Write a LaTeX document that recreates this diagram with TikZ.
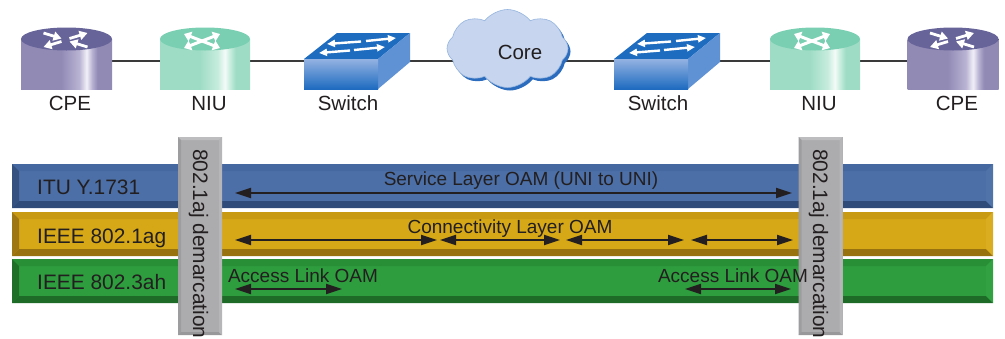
\documentclass[tikz,border=0pt]{standalone}
\usepackage{fontspec}
\setmainfont{Liberation Sans}
\usetikzlibrary{arrows.meta,shapes.symbols,backgrounds}

\definecolor{txt}{HTML}{231F20}
\definecolor{linkc}{HTML}{3A3A3A}
\definecolor{cpeTop}{HTML}{67649A}
\definecolor{cpeBase}{HTML}{918AB5}
\definecolor{cpeMid}{HTML}{B9B3D3}
\definecolor{cpeHi}{HTML}{F2F0F8}
\definecolor{niuTop}{HTML}{7ACFB3}
\definecolor{niuBase}{HTML}{9EDCC5}
\definecolor{niuMid}{HTML}{C6ECDD}
\definecolor{niuHi}{HTML}{F3FBF8}
\definecolor{swTop}{HTML}{1D6CC0}
\definecolor{swSide}{HTML}{5F92D4}
\definecolor{swFrontT}{HTML}{93B2E2}
\definecolor{swFrontB}{HTML}{1E6BC0}
\definecolor{cloudFill}{HTML}{C7D5EE}
\definecolor{cloudEdge}{HTML}{2B6CBE}
\definecolor{bluM}{HTML}{4B6FA6}\definecolor{bluT}{HTML}{4668A0}\definecolor{bluL}{HTML}{34517F}\definecolor{bluB}{HTML}{2F4B79}\definecolor{bluR}{HTML}{5074AA}
\definecolor{yelM}{HTML}{D6A818}\definecolor{yelT}{HTML}{C89A14}\definecolor{yelL}{HTML}{9E7612}\definecolor{yelB}{HTML}{98720F}\definecolor{yelR}{HTML}{DAAC1F}
\definecolor{grnM}{HTML}{2E9D3E}\definecolor{grnT}{HTML}{288F37}\definecolor{grnL}{HTML}{1F6F29}\definecolor{grnB}{HTML}{1E6A27}\definecolor{grnR}{HTML}{31A141}
\definecolor{barM}{HTML}{ACABAD}\definecolor{barT}{HTML}{BDBCBF}\definecolor{barL}{HTML}{9D9C9F}\definecolor{barB}{HTML}{98979A}\definecolor{barR}{HTML}{B6B5B8}

\pgfdeclarehorizontalshading{cpeshade}{100bp}{color(0bp)=(cpeBase); color(47bp)=(cpeBase); color(57bp)=(cpeMid); color(61bp)=(cpeHi); color(64bp)=(cpeMid); color(67bp)=(cpeBase); color(100bp)=(cpeBase)}
\pgfdeclarehorizontalshading{niushade}{100bp}{color(0bp)=(niuBase); color(47bp)=(niuBase); color(57bp)=(niuMid); color(61bp)=(niuHi); color(64bp)=(niuMid); color(67bp)=(niuBase); color(100bp)=(niuBase)}

\newcommand\mycpe[1]{%
  \fill[shading=cpeshade] (#1-45.5,39) rectangle (#1+45.5,89);
  \fill[cpeTop] (#1,39) ellipse [x radius=45.5pt, y radius=11.5pt];
  \begin{scope}[shift={(#1-1,40)}]
    \draw[wtip] (-22,-7) -- (-4,-1.5);
    \draw[wtip] (4,-1.5) -- (22,-7);
    \draw[wtip] (-4,1.5) -- (-22,7);
    \draw[wtip] (22,7) -- (4,1.5);
  \end{scope}}
\newcommand\myniu[1]{%
  \fill[shading=niushade] (#1-45,39) rectangle (#1+45,89);
  \fill[niuTop] (#1,39) ellipse [x radius=45pt, y radius=11.5pt];
  \begin{scope}[shift={(#1-3,41)}]
    \draw[wtwo] (-18,-7) -- (18,7);
    \draw[wtwo] (-18,7) -- (18,-7);
  \end{scope}}
\newcommand\myswitch[1]{%
  \fill[swTop] (#1,59) -- (#1+74,59) -- (#1+106,33) -- (#1+33,33) -- cycle;
  \fill[swSide] (#1+74,59) -- (#1+106,33) -- (#1+106,62) -- (#1+74,89) -- cycle;
  \fill[top color=swFrontT, bottom color=swFrontB] (#1,59) rectangle (#1+74,89);
  \draw[wsw] (#1+57,41.5) -- (#1+23,44);
  \draw[wsw] (#1+62,41) -- (#1+92,38);
  \draw[wsw] (#1+46,50.5) -- (#1+15,53);
  \draw[wsw] (#1+50,50) -- (#1+81,47);}
\newcommand\mkband[7]{%
  \fill[#3] (12,#1) rectangle (993,#2);
  \fill[#4] (12,#1) -- (993,#1) -- (986,#1+7) -- (19,#1+7) -- cycle;
  \fill[#5] (12,#1) -- (19,#1+7) -- (19,#2-7) -- (12,#2) -- cycle;
  \fill[#6] (12,#2) -- (993,#2) -- (986,#2-7) -- (19,#2-7) -- cycle;
  \fill[#7] (993,#1) -- (986,#1+7) -- (986,#2-7) -- (993,#2) -- cycle;}
\newcommand\mybar[1]{%
  \fill[barM] (#1-22,137) rectangle (#1+22,335);
  \fill[barT] (#1-22,137) -- (#1+22,137) -- (#1+19,140) -- (#1-19,140) -- cycle;
  \fill[barL] (#1-22,137) -- (#1-19,140) -- (#1-19,332) -- (#1-22,335) -- cycle;
  \fill[barB] (#1-22,335) -- (#1+22,335) -- (#1+19,332) -- (#1-19,332) -- cycle;
  \fill[barR] (#1+22,137) -- (#1+19,140) -- (#1+19,332) -- (#1+22,335) -- cycle;}

\tikzset{
  wtip/.style={draw=white, line width=2.8pt, -{Triangle[length=8pt,width=9pt]}},
  wtwo/.style={draw=white, line width=3pt, {Triangle[length=7pt,width=10pt]}-{Triangle[length=7pt,width=10pt]}},
  wsw/.style={draw=white, line width=2.4pt, -{Triangle[length=8pt,width=7pt]}},
  devbox/.style={inner sep=0pt, minimum height=50pt, draw=none},
  link/.style={draw=linkc, line width=1.6pt},
  oam/.style={draw=txt, line width=2pt, {Triangle[length=16pt,width=10pt]}-{Triangle[length=16pt,width=10pt]}},
  devlbl/.style={text=txt, inner sep=0pt, anchor=base, font=\fontsize{20.5}{24}\selectfont},
  laylbl/.style={text=txt, inner sep=0pt, anchor=base west, font=\fontsize{20.9}{24}\selectfont},
  oamlbl/.style={text=txt, inner sep=0pt, anchor=base, font=\fontsize{19}{22}\selectfont},
  barlbl/.style={text=txt, inner sep=0pt, anchor=base west, rotate=-90, font=\fontsize{20.9}{24}\selectfont},
  cloudsh/.style={cloud, cloud puffs=8, cloud puff arc=105, aspect=1.6, inner sep=0pt, minimum width=121pt, minimum height=78pt}
}

\begin{document}
\begin{tikzpicture}[x=1pt,y=-1pt]
\useasboundingbox (0,0) rectangle (1005,338);

% device placeholders
\node[devbox, minimum width=91pt] (cpeL) at (66.5,61) {};
\node[devbox, minimum width=90pt] (niuL) at (205,61) {};
\node[devbox, minimum width=106pt] (sw1) at (357,61) {};
\node[devbox, minimum width=106pt] (sw2) at (667,61) {};
\node[devbox, minimum width=90pt] (niuR) at (815,61) {};
\node[devbox, minimum width=90pt] (cpeR) at (953,61) {};

% cloud
\node[cloudsh, fill=cloudEdge] (coreshadow) at (510,51.5) {};
\node[cloudsh, fill=cloudFill, draw=cloudEdge!50, line width=0.6pt] (core) at (507.5,48.5) {};
\node[devlbl] (corelbl) at (520,59) {Core};

% devices
\mycpe{66.5}
\myniu{205}
\myswitch{304}
\myswitch{614}
\myniu{815}
\mycpe{953}

\begin{scope}[on background layer]
  \draw[link] (cpeL) -- (niuL);
  \draw[link] (niuL) -- (sw1);
  \draw[link] (sw1) -- (sw1 -| core);
  \draw[link] (core |- sw2) -- (sw2);
  \draw[link] (sw2) -- (niuR);
  \draw[link] (niuR) -- (cpeR);
\end{scope}

\node[devlbl] (lcpeL) at (70,110) {CPE};
\node[devlbl] (lniuL) at (209,110) {NIU};
\node[devlbl] (lsw1) at (348,110) {Switch};
\node[devlbl] (lsw2) at (658,110) {Switch};
\node[devlbl] (lniuR) at (819,110) {NIU};
\node[devlbl] (lcpeR) at (957,110) {CPE};

% bands
\mkband{164}{208}{bluM}{bluT}{bluL}{bluB}{bluR}
\mkband{212}{256}{yelM}{yelT}{yelL}{yelB}{yelR}
\mkband{259}{303}{grnM}{grnT}{grnL}{grnB}{grnR}

% arrows
\coordinate (s1) at (235,193); \coordinate (s2) at (792,193);
\draw[oam] (s1) -- (s2);
\coordinate (c1) at (235,240); \coordinate (c2) at (437,240);
\coordinate (c3) at (440,240); \coordinate (c4) at (560,240);
\coordinate (c5) at (566,240); \coordinate (c6) at (684,240);
\coordinate (c7) at (691,240); \coordinate (c8) at (793,240);
\draw[oam] (c1) -- (c2);
\draw[oam] (c3) -- (c4);
\draw[oam] (c5) -- (c6);
\draw[oam] (c7) -- (c8);
\coordinate (a1) at (235,289); \coordinate (a2) at (342,289);
\coordinate (a3) at (685,289); \coordinate (a4) at (791,289);
\draw[oam] (a1) -- (a2);
\draw[oam] (a3) -- (a4);

% demarcation bars
\mybar{200}
\mybar{820.5}

% labels
\node[laylbl] (itu) at (37,194) {ITU Y.1731};
\node[laylbl] (ag) at (37,243) {IEEE 802.1ag};
\node[laylbl] (ah) at (37,289) {IEEE 802.3ah};
\node[oamlbl] (slo) at (521,185) {Service Layer OAM (UNI to UNI)};
\node[oamlbl] (clo) at (510,233) {Connectivity Layer OAM};
\node[oamlbl] (alo1) at (303,282) {Access Link OAM};
\node[oamlbl] (alo2) at (733,282) {Access Link OAM};
\node[barlbl] (dm1) at (193,149) {802.1aj demarcation};
\node[barlbl] (dm2) at (813,149) {802.1aj demarcation};
\end{tikzpicture}
\end{document}
